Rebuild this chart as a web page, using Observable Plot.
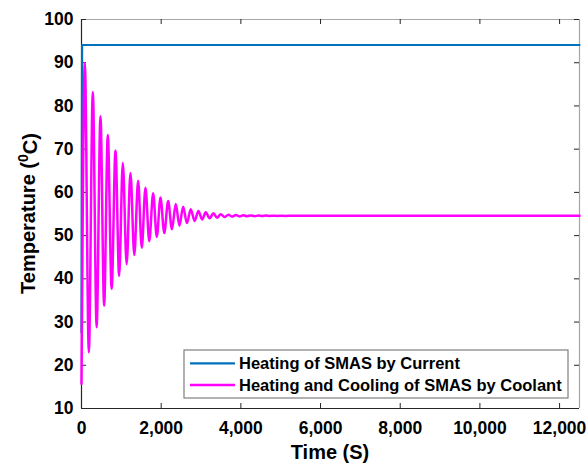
<!DOCTYPE html>
<html><head><meta charset="utf-8">
<script src="https://cdn.jsdelivr.net/npm/d3@7"></script>
<script src="https://cdn.jsdelivr.net/npm/@observablehq/plot@0.6"></script>
<style>
body{margin:0;background:#fff;}
#chart{position:relative;width:587px;height:463px;}
</style>
</head><body><div id="chart"></div>
<script>
// ---- data ----
const xTicks = [0, 2000, 4000, 6000, 8000, 10000, 12000];
const yTicks = [10, 20, 30, 40, 50, 60, 70, 80, 90, 100];
const seriesNames = ["Heating of SMAS by Current", "Heating and Cooling of SMAS by Coolant"];
const seriesColors = ["#0072BD", "#FF00FF"];
const xLabel = "Time (S)";

const currentTime = [0, 15, 12500];
const currentTemp = [27.6, 94.1, 94.1];

const coolantTime = [0, 84, 184, 284, 380, 476, 568, 660, 757, 853, 945, 1037, 1133, 1229, 1325, 1421, 1513,
  1605, 1701, 1798, 1890, 1982, 2078, 2174, 2270, 2366, 2458, 2550, 2646, 2742, 2838, 2935, 3027, 3119,
  3215, 3311, 3403, 3495, 3591, 3688, 3780, 3871, 3967, 4060, 4155, 4250, 4345, 4440, 4535, 4630, 4725,
  4820, 4915, 5010, 5105, 5300, 12500];
const coolantTemp = [15.7, 89.9, 23.0, 83.2, 28.8, 77.6, 33.8, 73.3, 37.7, 69.7, 40.7, 66.8, 43.4, 64.5, 45.5, 62.7, 47.2,
  61.1, 48.7, 59.8, 49.7, 58.8, 50.6, 58.0, 51.5, 57.3, 52.3, 56.7, 52.9, 56.1, 53.4, 55.7, 53.75, 55.4,
  54.0, 55.15, 54.15, 54.95, 54.3, 54.85, 54.4, 54.75, 54.45, 54.7, 54.5, 54.68, 54.5, 54.65, 54.52, 54.63, 54.54,
  54.61, 54.55, 54.6, 54.56, 54.58, 54.58];

const current = currentTime.map((t, i) => ({t, v: currentTemp[i]}));
const coolant = coolantTime.map((t, i) => ({t, v: coolantTemp[i]}));

// ---- layout ----
const W = 587, H = 463;
const mL = 81, mR = 8, mT = 19, mB = 55;
const iW = W - mL - mR, iH = H - mT - mB;
const FONT = "'Liberation Sans', Arial, sans-serif";
const dark = "#262626";

const plot = Plot.plot({
  width: W, height: H,
  marginLeft: mL, marginRight: mR, marginTop: mT, marginBottom: mB,
  style: {fontFamily: FONT, fontWeight: "bold", fontSize: "17.5px", color: "#000", background: "#fff"},
  x: {domain: [0, 12500]},
  y: {domain: [10, 100]},
  marks: [
    // frame
    Plot.ruleY([100], {stroke: "#a6a6a6", strokeWidth: 1.2}),
    Plot.ruleX([12500], {stroke: "#a6a6a6", strokeWidth: 1.2}),
    // inward ticks
    Plot.ruleX(xTicks, {x: d => d, y1: 100, y2: 10, insetTop: iH - 5, stroke: dark}),
    Plot.ruleX(xTicks, {x: d => d, y1: 100, y2: 10, insetBottom: iH - 5, stroke: dark}),
    Plot.ruleY(yTicks, {y: d => d, x1: 0, x2: 12500, insetRight: iW - 5, stroke: dark}),
    Plot.ruleY(yTicks, {y: d => d, x1: 0, x2: 12500, insetLeft: iW - 5, stroke: dark}),
    Plot.ruleX([0], {stroke: dark, strokeWidth: 1.2}),
    Plot.ruleY([10], {stroke: dark, strokeWidth: 1.2}),
    // data
    Plot.line(current, {x: "t", y: "v", stroke: seriesColors[0], strokeWidth: 2.2}),
    Plot.line(coolant, {x: "t", y: "v", stroke: seriesColors[1], strokeWidth: 2.5, curve: "monotone-x"}),
    // axes
    Plot.axisX(xTicks, {tickSize: 0, tickPadding: 13, tickFormat: d3.format(","), label: null}),
    Plot.axisY(yTicks, {tickSize: 0, tickPadding: 8, label: null})
  ]
});

const svg = d3.select(plot);
// y label with superscript
const yl = svg.append("text")
  .attr("transform", `translate(34.5, ${mT + iH / 2}) rotate(-90)`)
  .attr("text-anchor", "middle")
  .style("font-family", FONT).style("font-weight", "bold").style("font-size", "20px").attr("fill", "#000");
yl.append("tspan").text("Temperature (");
yl.append("tspan").attr("dy", "-0.45em").style("font-size", "14px").text("0");
yl.append("tspan").attr("dy", "0.45em").text("C)");
// x label
svg.append("text")
  .attr("x", mL + iW / 2).attr("y", 459)
  .attr("text-anchor", "middle")
  .style("font-family", FONT).style("font-weight", "bold").style("font-size", "20px").attr("fill", "#000")
  .text(xLabel);

// legend
const lg = svg.append("g").attr("text-anchor", "start");
lg.append("rect").attr("x", 184).attr("y", 350).attr("width", 384).attr("height", 48)
  .attr("fill", "#fff").attr("stroke", "#7f7f7f").attr("stroke-width", 1.2);
const rowsY = [363.3, 385];
seriesNames.forEach((name, i) => {
  lg.append("line").attr("x1", 190).attr("x2", 235).attr("y1", rowsY[i]).attr("y2", rowsY[i])
    .attr("stroke", seriesColors[i]).attr("stroke-width", i === 0 ? 2.2 : 2.5);
  lg.append("text").attr("x", 239).attr("y", rowsY[i]).attr("dy", "0.35em")
    .attr("text-anchor", "start")
    .style("font-family", FONT).style("font-weight", "bold").style("font-size", "16.5px").attr("fill", "#000")
    .text(name);
});

document.getElementById("chart").appendChild(plot);
</script>
</body></html>
